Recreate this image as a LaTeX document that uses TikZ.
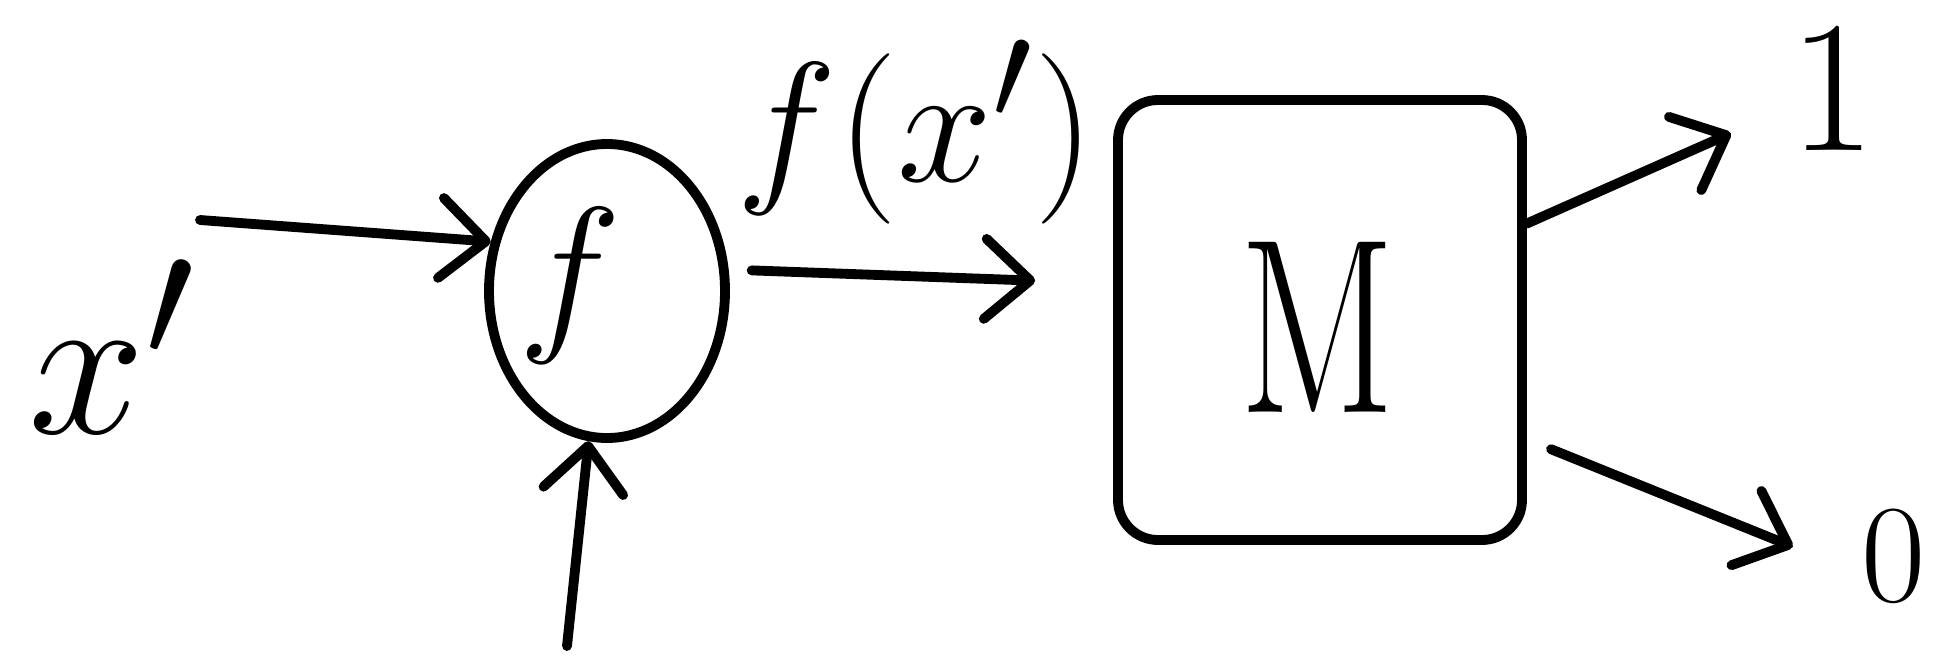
\documentclass[tikz,border=0pt]{standalone}
\usetikzlibrary{arrows.meta, shapes.geometric, positioning}

\newcommand{\gross}[2]{\scalebox{#1}{\Huge #2}}

\tikzset{
  strich/.style={line width=2.8pt, line cap=round, line join=round},
  pfeil/.style={strich, -{Straight Barb[length=4.5mm, width=8mm, round]}},
  kreis/.style={strich, draw, ellipse, minimum width=2.36cm, minimum height=2.94cm, inner sep=0pt},
  kasten/.style={strich, draw, rectangle, rounded corners=4mm, minimum width=4.04cm, minimum height=4.4cm},
}

\begin{document}
\begin{tikzpicture}[every node/.style={inner sep=1pt}]
  \useasboundingbox (0,0) rectangle (19.48,6.6);

  % Eingabe und Funktion
  \node (xs) at (1.13,3.13) {\gross{2.4}{$x'$}};
  \node[kreis] (f) at (6.07,3.69) {};
  \node (fbuch) at (5.70,3.74) {\gross{2.0}{$f$}};
  \coordinate (xein) at (2.00,4.40);
  \coordinate (unten) at (5.67,0.14);
  \draw[pfeil] (xein) -- (f.157);
  \draw[pfeil] (unten) -- (f.263);

  % Modell M
  \node[kasten] (M) at (13.20,3.40) {};
  \node (mbuch) at (13.18,3.33) {\scalebox{2.1}[2.85]{\Huge M}};
  \node (fx) at (9.16,5.28) {\gross{1.95}{$f(x')$}};
  \draw[pfeil, shorten <=2.3mm, shorten >=7.8mm] (f.10) -- (M.170);

  % Ausgaben
  \node (eins) at (18.33,5.72) {\gross{2.15}{1}};
  \node (null) at (18.94,1.04) {\gross{1.6}{0}};
  \draw[pfeil, shorten >=6mm] (M.25) -- (eins);
  \draw[pfeil, shorten <=2.6mm, shorten >=7mm] (M.-30) -- (null.205);
\end{tikzpicture}
\end{document}
